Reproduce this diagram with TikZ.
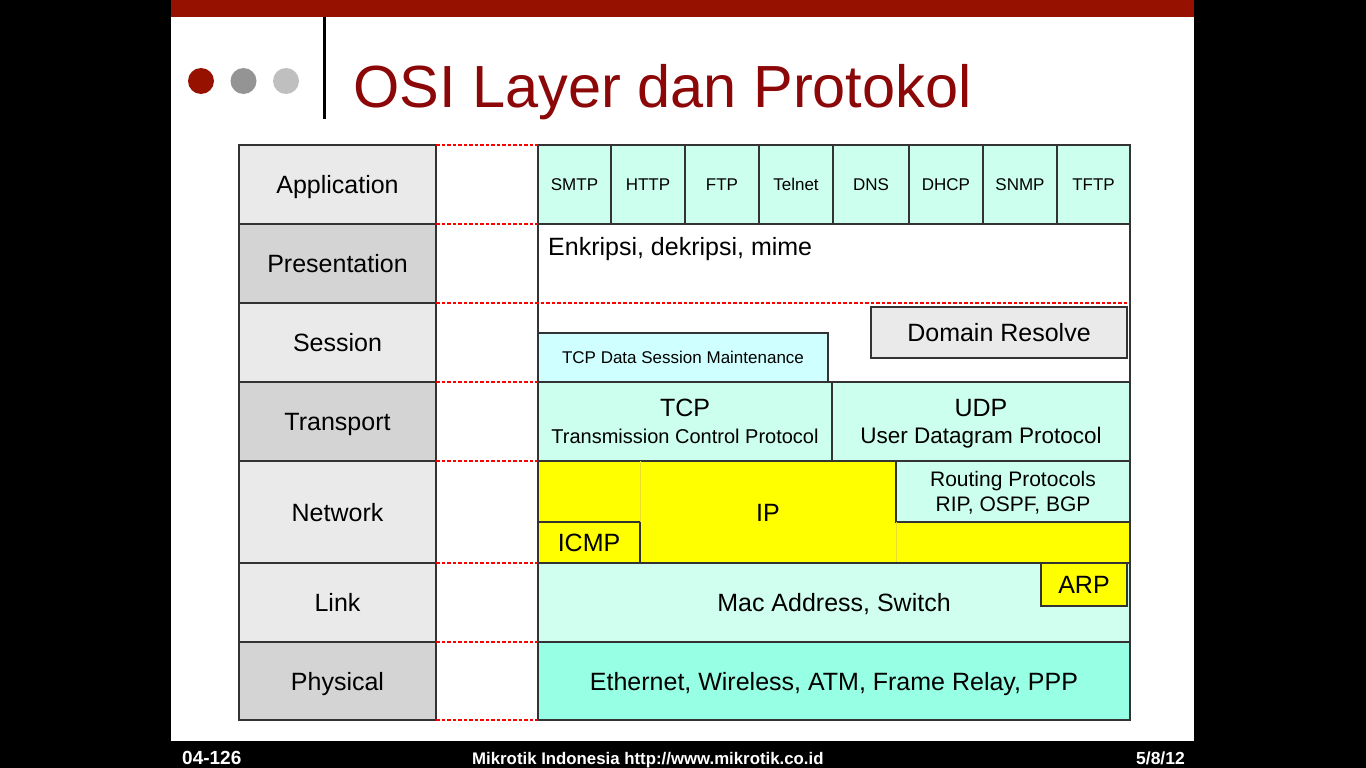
\documentclass[tikz,border=0pt]{standalone}
\usepackage{fontspec}
\setmainfont{Liberation Sans}
\usetikzlibrary{positioning}
\definecolor{mred}{RGB}{150,17,0}
\definecolor{tred}{RGB}{140,8,8}
\definecolor{lgray}{RGB}{234,234,234}
\definecolor{dgray}{RGB}{212,212,212}
\definecolor{mint}{RGB}{204,255,238}
\definecolor{lmint}{RGB}{208,255,240}
\definecolor{lcyan}{RGB}{208,255,255}
\definecolor{aqua}{RGB}{150,255,228}
\definecolor{yel}{RGB}{255,255,0}

\begin{document}
\begin{tikzpicture}[x=1pt,y=-1pt,
                    layer/.style={draw=black!80,line width=1.2pt,fill=lgray,minimum width=197pt,
                    minimum height=79pt,inner sep=0pt,outer sep=0pt,text depth=0pt,
                    font=\fontsize{25}{28}\selectfont},
                    cell/.style={draw=black!80,line width=1.2pt,fill=mint,inner sep=0pt,outer sep=0pt,text depth=0pt},
                    proto/.style={cell,minimum height=79pt,font=\fontsize{17}{20}\selectfont},
                    big/.style={font=\fontsize{25}{28}\selectfont,text depth=0pt},
                    dot/.style={circle,minimum size=26pt,inner sep=0pt},
                    foot/.style={text=white,inner sep=0pt,font=\bfseries\fontsize{17.5}{20}\selectfont},
                    sep/.style={red,dash pattern=on 3.5pt off 2pt,line width=1.3pt},
                    faint/.style={yellow!80!gray,line width=0.6pt}
]
% slide
\fill[black] (0,0) rectangle (1366,768);
\fill[white] (171,0) rectangle (1194,741);
\fill[mred] (171,0) rectangle (1194,17);
\node[dot,fill=mred] (d1) at (201,81) {};
\node[dot,fill=black!42] (d2) at (243.5,81) {};
\node[dot,fill=black!25] (d3) at (286,81) {};
\draw[line width=3pt] (324.5,17) -- (324.5,119);
\node[anchor=base west,text=tred,inner sep=0pt,font=\fontsize{59.5}{66}\selectfont] (title) at (353,107) {OSI Layer dan Protokol};

% OSI layers
\node[layer] (app) at (337.5,184.5) {Application};
\node[layer,fill=dgray] (pres) at (337.5,263.5) {Presentation};
\node[layer] (sess) at (337.5,342.5) {Session};
\node[layer,fill=dgray] (trans) at (337.5,421.5) {Transport};
\node[layer,minimum height=102pt] (net) at (337.5,512) {Network};
\node[layer] (lnk) at (337.5,602.5) {Link};
\node[layer,fill=dgray,minimum height=78pt] (phys) at (337.5,681) {Physical};

% application protocols
\node[proto,minimum width=73pt] (smtp) at (574.5,184.5) {SMTP};
\node[proto,minimum width=74pt] (http) at (648,184.5) {HTTP};
\node[proto,minimum width=74pt] (ftp) at (722,184.5) {FTP};
\node[proto,minimum width=74pt] (telnet) at (796,184.5) {Telnet};
\node[proto,minimum width=76pt] (dns) at (871,184.5) {DNS};
\node[proto,minimum width=74pt] (dhcp) at (946,184.5) {DHCP};
\node[proto,minimum width=74pt] (snmp) at (1020,184.5) {SNMP};
\node[proto,minimum width=73pt] (tftp) at (1093.5,184.5) {TFTP};

% presentation + session
\node[cell,fill=white,minimum width=592pt,minimum height=158pt] (upper) at (834,303) {};
\node[big,anchor=base west,inner sep=0pt] (enc) at (548,255) {Enkripsi, dekripsi, mime};
\node[cell,fill=lcyan,minimum width=290pt,minimum height=49pt,font=\fontsize{17}{20}\selectfont] (tdsm) at (683,357.5) {TCP Data Session Maintenance};
\node[cell,fill=lgray,minimum width=256pt,minimum height=51pt,big] (dom) at (999,332.5) {Domain Resolve};

% transport
\node[cell,minimum width=294pt,minimum height=79pt,align=center,font=\fontsize{20}{27}\selectfont] (tcp) at (685,421.5)
  {{\fontsize{25}{27}\selectfont TCP}\\Transmission Control Protocol};
\node[cell,minimum width=298pt,minimum height=79pt,align=center,font=\fontsize{22.5}{27}\selectfont] (udp) at (981,421.5)
  {{\fontsize{25}{27}\selectfont UDP}\\User Datagram Protocol};

% network
\node[cell,fill=yel,minimum width=592pt,minimum height=102pt] (ip) at (834,512) {};
\node[big] (iplbl) at (768,513) {IP};
\node[cell,fill=yel,minimum width=102pt,minimum height=41pt,big] (icmp) at (589,542.5) {ICMP};
\node[cell,minimum width=234pt,minimum height=61pt,align=center,font=\fontsize{21}{25}\selectfont] (rout) at (1013,491.5)
  {Routing Protocols\\RIP, OSPF, BGP};
\draw[faint] (icmp.north east) -- (icmp.north east |- ip.north);
\draw[faint] (rout.south west) -- (rout.south west |- ip.south);

% link + physical
\node[cell,fill=lmint,minimum width=592pt,minimum height=79pt,big] (mac) at (834,602.5) {Mac Address, Switch};
\node[cell,fill=yel,minimum width=86pt,minimum height=43pt,big] (arp) at (1084,584.5) {ARP};
\node[cell,fill=aqua,minimum width=592pt,minimum height=78pt,big] (eth) at (834,681) {Ethernet, Wireless, ATM, Frame Relay, PPP};

% red separators
\draw[sep] (app.north east) -- (smtp.north west);
\draw[sep] (app.south east) -- (smtp.south west);
\draw[sep] (pres.south east) -- (pres.south east -| upper.east);
\draw[sep] (sess.south east) -- (tcp.north west);
\draw[sep] (trans.south east) -- (tcp.south west);
\draw[sep] (net.south east) -- (mac.north west);
\draw[sep] (lnk.south east) -- (eth.north west);
\draw[sep] (phys.south east) -- (eth.south west);

% footer
\node[foot,anchor=base west,font=\bfseries\fontsize{19}{20}\selectfont] (pg) at (182,764) {04-126};
\node[foot,anchor=base west,font=\bfseries\fontsize{16.8}{20}\selectfont] (site) at (472,764) {Mikrotik Indonesia http://www.mikrotik.co.id};
\node[foot,anchor=base east] (date) at (1185,764) {5/8/12};
\end{tikzpicture}
\end{document}
